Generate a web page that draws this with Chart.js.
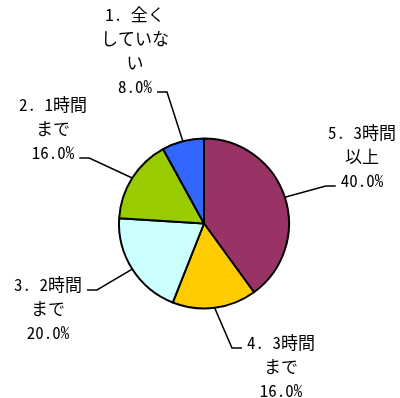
<!DOCTYPE html>
<html>
<head>
<meta charset="utf-8">
<script src="https://cdn.jsdelivr.net/npm/chart.js@4"></script>
<style>
  body { margin: 0; background: #fff; }
</style>
</head>
<body>
<canvas id="chart" width="400" height="398"></canvas>
<script>
// 항목 (12시 방향부터 시계방향 순서)
const categories = [
  ["5. 3時間", "以上"],
  ["4. 3時間", "まで"],
  ["3. 2時間", "まで"],
  ["2. 1時間", "まで"],
  ["1. 全く", "していな", "い"],
];
// 비율 (%)
const values = [40.0, 16.0, 20.0, 16.0, 8.0];
const colors = ["#993366", "#FFCC00", "#CCFFFF", "#99CC00", "#3366FF"];

// 라벨 위치: 텍스트 중심 x, 첫 줄 y, 리더선이 붙는 줄과 방향
const labelPos = [
  { x: 362, y: 133, line: "last", side: "left" },
  { x: 281, y: 343, line: "first", side: "left" },
  { x: 48, y: 285, line: "first", side: "right" },
  { x: 53, y: 105, line: "last", side: "right" },
  { x: 135, y: 15, line: "last", side: "right" },
];
const lineH = 24;

// 라벨 + 리더선 그리는 플러그인
const leaderLabels = {
  id: "leaderLabels",
  afterDatasetsDraw(chart) {
    const ctx = chart.ctx;
    const arcs = chart.getDatasetMeta(0).data;
    ctx.save();
    ctx.font = '17px "Noto Sans Mono CJK JP", "Noto Sans CJK JP", sans-serif';
    ctx.textAlign = "center";
    ctx.textBaseline = "middle";
    ctx.fillStyle = "#000";
    ctx.strokeStyle = "#000";
    ctx.lineWidth = 1.5;
    arcs.forEach((arc, i) => {
      const lines = categories[i].concat(values[i].toFixed(1) + "%");
      const pos = labelPos[i];
      lines.forEach((t, k) => ctx.fillText(t, pos.x, pos.y + k * lineH));

      const k = pos.line === "first" ? 0 : lines.length - 1;
      const w = ctx.measureText(lines[k]).width;
      const ly = pos.y + k * lineH + 5;
      const dir = pos.side === "left" ? -1 : 1;
      const endX = pos.x + dir * (w / 2 + 5);
      const elbowX = endX + dir * 10;

      const p = arc.getProps(["x", "y", "startAngle", "endAngle", "outerRadius"], true);
      const a = (p.startAngle + p.endAngle) / 2;
      ctx.beginPath();
      ctx.moveTo(p.x + Math.cos(a) * p.outerRadius, p.y + Math.sin(a) * p.outerRadius);
      ctx.lineTo(elbowX, ly);
      ctx.lineTo(endX, ly);
      ctx.stroke();
    });
    ctx.restore();
  },
};

const pieChart = document.querySelector("#chart");

new Chart(pieChart, {
  type: "pie",
  data: {
    labels: categories,
    datasets: [
      {
        data: values,
        backgroundColor: colors,
        borderColor: "#000",
        borderWidth: 2,
      },
    ],
  },
  options: {
    responsive: false,
    animation: false,
    layout: {
      padding: { left: 118, right: 110, top: 137.5, bottom: 88.5 },
    },
    plugins: {
      legend: { display: false },
      tooltip: { enabled: false },
    },
  },
  plugins: [leaderLabels],
});
</script>
</body>
</html>
